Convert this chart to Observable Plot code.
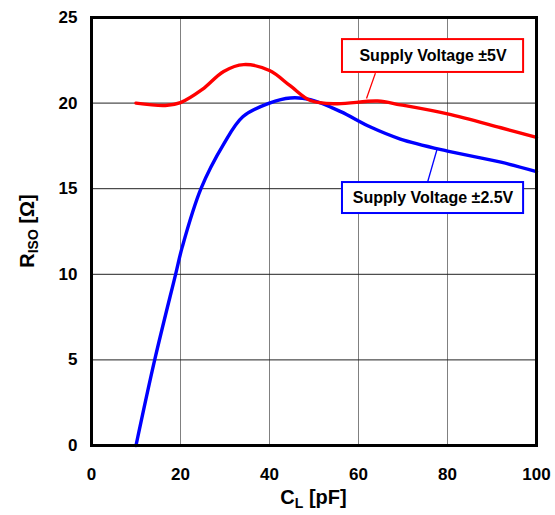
<!DOCTYPE html>
<html>
<head>
<meta charset="utf-8">
<script src="https://cdn.jsdelivr.net/npm/d3@7"></script>
<script src="https://cdn.jsdelivr.net/npm/@observablehq/plot@0.6"></script>
<style>
  body { margin: 0; background: #fff; }
  #chart { width: 555px; height: 515px; }
</style>
</head>
<body>
<div id="chart"></div>
<script>
// Data
const cl5 = [10, 16.6, 20, 24.9, 29.7, 34.2, 40, 44.7, 49.2, 55, 64.3, 69.4, 80, 92, 100];
const riso5 = [20, 19.86, 20.03, 20.8, 21.85, 22.25, 21.9, 21.0, 20.15, 19.96, 20.12, 19.9, 19.37, 18.56, 18.0];
const cl25 = [10, 14.2, 18.9, 20.4, 24.6, 29.7, 34, 40, 44.7, 49.2, 56, 62.7, 69.4, 80, 92, 100];
const riso25 = [0, 5, 10, 11.6, 15, 17.6, 19.2, 20.0, 20.3, 20.2, 19.5, 18.6, 17.9, 17.2, 16.55, 16.0];
const xTicks = [0, 20, 40, 60, 80, 100];
const yTicks = [0, 5, 10, 15, 20, 25];
const seriesNames = ["Supply Voltage \u00b15V", "Supply Voltage \u00b12.5V"];
const seriesColors = ["#ff0000", "#0000ff"];
// label boxes (data coordinates) and leader lines
const boxX = [56.4, 97.1];
const boxY = [[21.79, 23.71], [13.55, 15.36]];
const leaders = [
  {x1: 63.8, y1: 21.75, x2: 61.8, y2: 20.27},
  {x1: 77.7, y1: 17.35, x2: 75.5, y2: 15.36}
];

const s5 = cl5.map((x, i) => ({x, y: riso5[i]}));
const s25 = cl25.map((x, i) => ({x, y: riso25[i]}));
const boxes = boxY.map((b, i) => ({x1: boxX[0], x2: boxX[1], y1: b[0], y2: b[1], name: seriesNames[i], color: seriesColors[i]}));
const leaderData = leaders.map((l, i) => ({...l, color: seriesColors[i]}));

const font = "'Liberation Sans', Arial, sans-serif";

const plot = Plot.plot({
  width: 555,
  height: 515,
  marginLeft: 91,
  marginRight: 19,
  marginTop: 17,
  marginBottom: 70,
  style: {fontFamily: font, background: "#fff", color: "#000"},
  x: {domain: [0, 100]},
  y: {domain: [0, 25]},
  marks: [
    Plot.ruleX(xTicks.slice(1, -1), {stroke: "#808080", strokeWidth: 1}),
    Plot.ruleY(yTicks.slice(1, -1), {stroke: "#222", strokeWidth: 1}),
    Plot.line(s25, {x: "x", y: "y", stroke: seriesColors[1], strokeWidth: 3.4, curve: "catmull-rom"}),
    Plot.line(s5, {x: "x", y: "y", stroke: seriesColors[0], strokeWidth: 3.4, curve: "catmull-rom"}),
    Plot.link(leaderData, {x1: "x1", y1: "y1", x2: "x2", y2: "y2", stroke: "color", strokeWidth: 1.3}),
    Plot.rect(boxes, {x1: "x1", x2: "x2", y1: "y1", y2: "y2", fill: "#fff", stroke: "color", strokeWidth: 2}),
    Plot.text(boxes, {x: d => (d.x1 + d.x2) / 2, y: d => (d.y1 + d.y2) / 2, text: "name", fontSize: 16, fontWeight: "bold", fill: "#000"}),
    Plot.frame({stroke: "#000", strokeWidth: 3}),
    Plot.axisX({ticks: xTicks, tickSize: 0, tickPadding: 22, fontSize: 17, fontWeight: "bold", label: null}),
    Plot.axisY({ticks: yTicks, tickSize: 0, tickPadding: 14, fontSize: 17, fontWeight: "bold", label: null})
  ]
});

document.getElementById("chart").appendChild(plot);

// Axis titles with subscripts
const svg = d3.select(plot);
const xs = plot.scale("x"), ys = plot.scale("y");
const xt = svg.append("text")
  .attr("x", xs.apply(50))
  .attr("y", 504)
  .attr("text-anchor", "middle")
  .style("font-family", font).style("font-size", "20px").style("font-weight", "bold");
xt.append("tspan").text("C");
xt.append("tspan").attr("dy", 4).style("font-size", "14px").text("L");
xt.append("tspan").attr("dy", -4).text(" [pF]");

const yt = svg.append("text")
  .attr("transform", `translate(34,${ys.apply(12.5)}) rotate(-90)`)
  .attr("text-anchor", "middle")
  .style("font-family", font).style("font-size", "20px").style("font-weight", "bold");
yt.append("tspan").text("R");
yt.append("tspan").attr("dy", 4).style("font-size", "14px").text("ISO");
yt.append("tspan").attr("dy", -4).text(" [\u03a9]");
</script>
</body>
</html>
